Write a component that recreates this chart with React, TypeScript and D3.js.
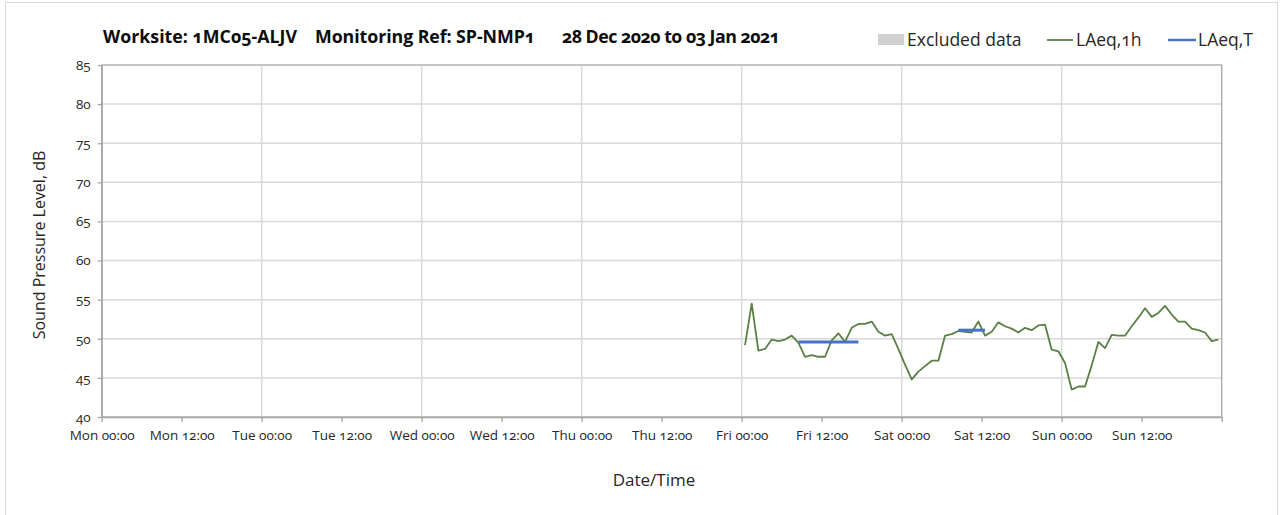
import React, { useEffect, useRef } from 'react';
import * as d3 from 'd3';

// hourly LAeq,1h values, first one centred on Fri 01 Jan 2021 00:30
const laeq1hStart = '2021-01-01T00:30';
const laeq1hValues = [
  49.2, 54.5, 48.5, 48.7, 49.9, 49.7, 49.9, 50.4, 49.5, 47.7, 47.9, 47.7,
  47.7, 49.8, 50.7, 49.6, 51.4, 51.9, 51.9, 52.2, 50.9, 50.4, 50.6, 48.7,
  46.7, 44.8, 45.8, 46.5, 47.2, 47.2, 50.4, 50.6, 51.0, 50.9, 50.8, 52.2,
  50.4, 50.9, 52.1, 51.6, 51.3, 50.8, 51.4, 51.1, 51.7, 51.8, 48.6, 48.4,
  46.9, 43.5, 43.9, 43.9, 46.6, 49.6, 48.8, 50.5, 50.4, 50.4, 51.6, 52.7,
  53.9, 52.8, 53.3, 54.2, 53.1, 52.2, 52.2, 51.3, 51.1, 50.8, 49.7, 49.9,
];

// LAeq,T periods
const laeqTStarts = ['2021-01-01T08:30', '2021-01-02T08:30'];
const laeqTEnds = ['2021-01-01T17:30', '2021-01-02T12:30'];
const laeqTValues = [49.6, 51.1];

const xTickLabels = [
  'Mon 00:00', 'Mon 12:00', 'Tue 00:00', 'Tue 12:00', 'Wed 00:00', 'Wed 12:00',
  'Thu 00:00', 'Thu 12:00', 'Fri 00:00', 'Fri 12:00', 'Sat 00:00', 'Sat 12:00',
  'Sun 00:00', 'Sun 12:00',
];
const yTicks = [40, 45, 50, 55, 60, 65, 70, 75, 80, 85];

const rangeStart = '2020-12-28T00:00';
const rangeEnd = '2021-01-04T00:00';

const FONT = "'Open Sans', sans-serif";

export default function App() {
  const ref = useRef<SVGSVGElement>(null);

  useEffect(() => {
    if (!ref.current) return;
    const parse = d3.timeParse('%Y-%m-%dT%H:%M');
    const svg = d3.select(ref.current);
    svg.selectAll('*').remove();

    const width = 1288;
    const height = 515;
    const plot = { left: 101.7, right: 1221.7, top: 65, bottom: 417 };

    const x = d3.scaleTime()
      .domain([parse(rangeStart)!, parse(rangeEnd)!])
      .range([plot.left, plot.right]);
    const y = d3.scaleLinear().domain([40, 85]).range([plot.bottom, plot.top]);

    svg.attr('width', width).attr('height', height);

    svg.append('rect').attr('width', width).attr('height', height).attr('fill', '#fff');

    // outer frame
    svg.append('rect')
      .attr('x', 5.5).attr('y', 2.5)
      .attr('width', 1272).attr('height', 520)
      .attr('fill', 'none').attr('stroke', '#d9d9d9').attr('stroke-width', 1);

    const start = parse(rangeStart)!;
    const ticks12 = d3.range(0, 15).map(i => d3.timeHour.offset(start, i * 12));
    const dayLines = ticks12.filter((d, i) => i % 2 === 0 && i > 0 && i < 14);

    // gridlines
    svg.append('g').selectAll('line').data(yTicks.filter(v => v > 40 && v < 85)).enter()
      .append('line')
      .attr('x1', plot.left).attr('x2', plot.right)
      .attr('y1', d => y(d)).attr('y2', d => y(d))
      .attr('stroke', '#d9d9d9').attr('stroke-width', 1.5);
    svg.append('g').selectAll('line').data(dayLines).enter()
      .append('line')
      .attr('x1', d => x(d)).attr('x2', d => x(d))
      .attr('y1', plot.top).attr('y2', plot.bottom)
      .attr('stroke', '#d9d9d9').attr('stroke-width', 1.5);

    // plot border
    svg.append('rect')
      .attr('x', plot.left).attr('y', plot.top)
      .attr('width', plot.right - plot.left).attr('height', plot.bottom - plot.top)
      .attr('fill', 'none').attr('stroke', '#a6a6a6').attr('stroke-width', 1.3);

    // axes
    const xAxis = svg.append('g')
      .attr('transform', `translate(0,${plot.bottom})`)
      .call(d3.axisBottom(x).tickValues(ticks12)
        .tickFormat((d, i) => xTickLabels[i] ?? '')
        .tickSize(5).tickSizeOuter(0).tickPadding(8));
    xAxis.select('.domain').attr('stroke', '#a6a6a6').attr('stroke-width', 1.3);
    xAxis.selectAll('.tick line').attr('stroke', '#a6a6a6').attr('stroke-width', 1.3);
    xAxis.selectAll('.tick text')
      .attr('font-family', FONT).attr('font-size', 13.5).attr('fill', '#262626')
      .style('font-variant-numeric', 'oldstyle-nums');

    const yAxis = svg.append('g')
      .attr('transform', `translate(${plot.left},0)`)
      .call(d3.axisLeft(y).tickValues(yTicks).tickSize(4).tickSizeOuter(0).tickPadding(7));
    yAxis.select('.domain').attr('stroke', '#a6a6a6').attr('stroke-width', 1.3);
    yAxis.selectAll('.tick line').attr('stroke', '#a6a6a6').attr('stroke-width', 1.3);
    yAxis.selectAll('.tick text')
      .attr('font-family', FONT).attr('font-size', 13.5).attr('fill', '#262626')
      .style('font-variant-numeric', 'oldstyle-nums');

    // LAeq,1h line
    const t0 = parse(laeq1hStart)!;
    const pts = laeq1hValues.map((v, i) => ({ t: d3.timeHour.offset(t0, i), v }));
    svg.append('path')
      .datum(pts)
      .attr('fill', 'none')
      .attr('stroke', '#5b7f45')
      .attr('stroke-width', 1.8)
      .attr('stroke-linejoin', 'round')
      .attr('d', d3.line<{ t: Date; v: number }>().x(d => x(d.t)).y(d => y(d.v)));

    // LAeq,T lines
    svg.append('g').selectAll('line').data(laeqTValues).enter()
      .append('line')
      .attr('x1', (d, i) => x(parse(laeqTStarts[i])!))
      .attr('x2', (d, i) => x(parse(laeqTEnds[i])!))
      .attr('y1', d => y(d)).attr('y2', d => y(d))
      .attr('stroke', '#4472c4').attr('stroke-width', 3);

    // title
    const title = svg.append('g')
      .attr('font-family', FONT).attr('font-weight', 700).attr('font-size', 17.8)
      .attr('fill', '#0d0d0d').style('font-variant-numeric', 'oldstyle-nums');
    title.append('text').attr('x', 103).attr('y', 43)
      .attr('textLength', 194).attr('lengthAdjust', 'spacing')
      .text('Worksite: 1MC05-ALJV');
    title.append('text').attr('x', 315).attr('y', 43)
      .attr('textLength', 220).attr('lengthAdjust', 'spacing')
      .text('Monitoring Ref: SP-NMP1');
    title.append('text').attr('x', 562).attr('y', 43)
      .attr('textLength', 218).attr('lengthAdjust', 'spacing')
      .text('28 Dec 2020 to 03 Jan 2021');

    // legend
    const legend = svg.append('g')
      .attr('font-family', FONT).attr('font-size', 17.5).attr('fill', '#262626')
      .style('font-variant-numeric', 'oldstyle-nums');
    legend.append('rect').attr('x', 878).attr('y', 34).attr('width', 26).attr('height', 11).attr('fill', '#d0d0d0');
    legend.append('text').attr('x', 907).attr('y', 46).text('Excluded data');
    legend.append('line').attr('x1', 1047).attr('x2', 1073).attr('y1', 40).attr('y2', 40)
      .attr('stroke', '#5b7f45').attr('stroke-width', 1.8);
    legend.append('text').attr('x', 1076).attr('y', 46).text('LAeq,1h');
    legend.append('line').attr('x1', 1168).attr('x2', 1196).attr('y1', 40).attr('y2', 40)
      .attr('stroke', '#4472c4').attr('stroke-width', 2.5);
    legend.append('text').attr('x', 1198).attr('y', 46).text('LAeq,T');

    // axis titles
    svg.append('text')
      .attr('transform', `translate(45,245) rotate(-90)`)
      .attr('text-anchor', 'middle')
      .attr('font-family', FONT).attr('font-size', 16).attr('fill', '#262626')
      .text('Sound Pressure Level, dB');
    svg.append('text')
      .attr('x', 654).attr('y', 486)
      .attr('text-anchor', 'middle')
      .attr('font-family', FONT).attr('font-size', 17).attr('fill', '#262626')
      .text('Date/Time');
  }, []);

  return (
    <div style={{ position: 'fixed', left: 0, top: 0 }}>
      <svg ref={ref} style={{ display: 'block' }} />
    </div>
  );
}
